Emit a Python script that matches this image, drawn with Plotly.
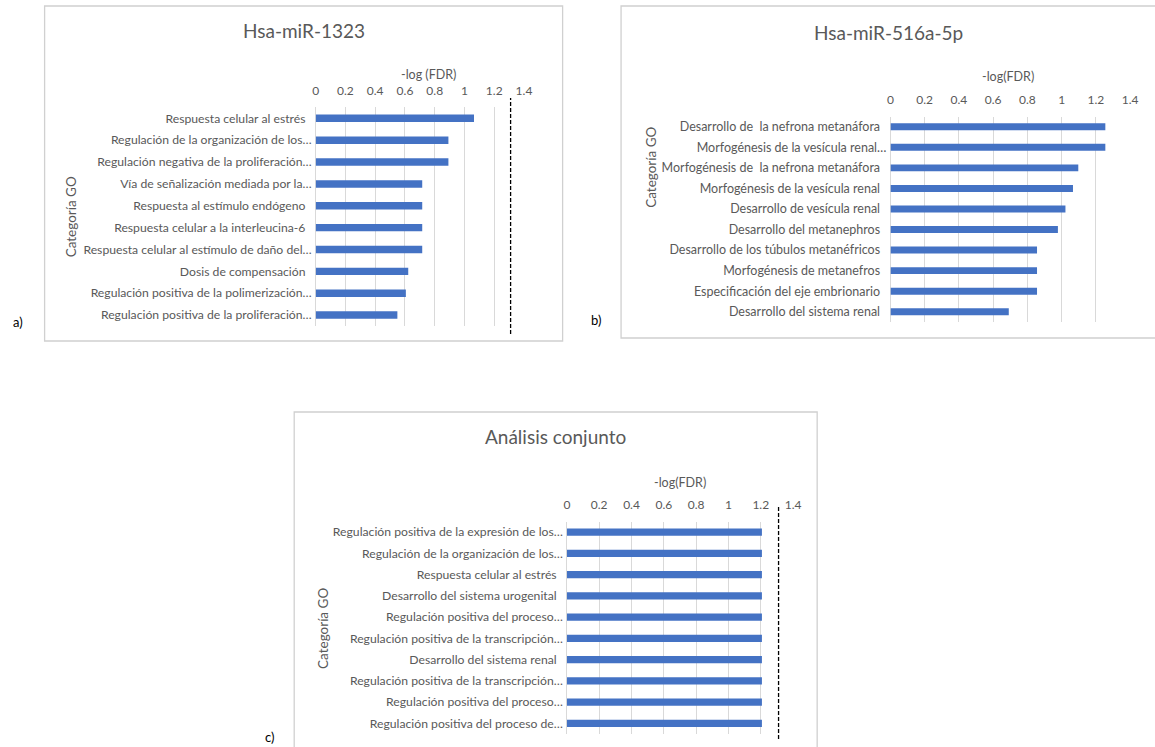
import plotly.graph_objects as go

W, H = 1155, 747

# ---------------- data ----------------
titles = ["Hsa-miR-1323", "Hsa-miR-516a-5p", "Análisis conjunto"]
x_titles = ["-log (FDR)", "-log(FDR)", "-log(FDR)"]
y_title = "Categoría GO"
panel_tags = ["a)", "b)", "c)"]

cats_a = [
    "Respuesta celular al estrés",
    "Regulación de la organización de los…",
    "Regulación negativa de la proliferación…",
    "Vía de señalización mediada por la…",
    "Respuesta al estímulo endógeno",
    "Respuesta celular a la interleucina-6",
    "Respuesta celular al estímulo de daño del…",
    "Dosis de compensación",
    "Regulación positiva de la polimerización…",
    "Regulación positiva de la proliferación…",
]
vals_a = [1.064, 0.892, 0.892, 0.716, 0.716, 0.716, 0.716, 0.622, 0.606, 0.549]

cats_b = [
    "Desarrollo de  la nefrona metanáfora",
    "Morfogénesis de la vesícula renal…",
    "Morfogénesis de  la nefrona metanáfora",
    "Morfogénesis de la vesícula renal",
    "Desarrollo de vesícula renal",
    "Desarrollo del metanephros",
    "Desarrollo de los túbulos metanéfricos",
    "Morfogénesis de metanefros",
    "Especificación del eje embrionario",
    "Desarrollo del sistema renal",
]
vals_b = [1.255, 1.255, 1.097, 1.066, 1.022, 0.978, 0.856, 0.856, 0.856, 0.691]

cats_c = [
    "Regulación positiva de la expresión de los…",
    "Regulación de la organización de los…",
    "Respuesta celular al estrés",
    "Desarrollo del sistema urogenital",
    "Regulación positiva del proceso…",
    "Regulación positiva de la transcripción…",
    "Desarrollo del sistema renal",
    "Regulación positiva de la transcripción…",
    "Regulación positiva del proceso…",
    "Regulación positiva del proceso de…",
]
vals_c = [1.207, 1.207, 1.207, 1.207, 1.207, 1.207, 1.207, 1.207, 1.207, 1.207]

x_ticks = [0, 0.2, 0.4, 0.6, 0.8, 1, 1.2, 1.4]
x_tick_text = ["0", "0.2", "0.4", "0.6", "0.8", "1", "1.2", "1.4"]
THRESHOLD = 1.31  # -log(0.05) significance line

# ---------------- layout helpers ----------------
def fx(px):
    return px / W

def fy(py):
    return 1 - py / H

BAR = "#4472C4"
TXT = "#595959"
GRID = "#d9d9d9"
FONT = "Lato"

# plot areas (pixels): x0, x1, y0, y1
areas = [
    (315.7, 526.0, 107.4, 326.0),
    (896.0, 1138.0, 116.5, 322.0),
    (569.3, 797.7, 521.5, 734.0),
]
title_pos = [(304, 30), (894, 33), (558, 437)]
xtitle_pos = [(430, 74), (1015, 77), (684, 482)]
ytitle_pos = [(69, 217), (654, 167), (323, 628)]
tag_pos = [(15, 322), (599, 320), (269, 737)]
borders = [(42, 6, 565, 341), (624, 6, 1170, 338), (294, 412, 822, 760)]
dash_span = [(98, 334), None, (505, 739)]
label_size = [12.2, 12.5, 12.2]

fig = go.Figure()

panels = [(cats_a, vals_a), (cats_b, vals_b), (cats_c, vals_c)]

def pad(lbl):
    return lbl if lbl.endswith("…") else lbl + "\u00a0\u00a0"

annotations = []
shapes = []
for i, (cats, vals) in enumerate(panels):
    k = "" if i == 0 else str(i + 1)
    idx = list(range(len(cats)))
    fig.add_trace(go.Bar(
        x=vals, y=idx, orientation="h", width=0.34,
        marker=dict(color=BAR, line=dict(width=0)),
        xaxis="x" + k, yaxis="y" + k, showlegend=False, hoverinfo="x",
    ))
    x0, x1, y0, y1 = areas[i]
    fig.layout["xaxis" + k] = dict(
        domain=[fx(x0), fx(x1)], anchor="y" + k, side="top",
        range=[0, 1.4], tickvals=x_ticks, ticktext=x_tick_text,
        showgrid=True, gridcolor=GRID, gridwidth=1,
        zeroline=True, zerolinecolor=GRID, zerolinewidth=1,
        showline=False, ticks="", ticklabelstandoff=9,
        tickfont=dict(family=FONT, size=12, color=TXT),
        fixedrange=True,
    )
    fig.layout["yaxis" + k] = dict(
        domain=[fy(y1), fy(y0)], anchor="x" + k,
        range=[len(cats) - 0.5, -0.5],
        tickvals=idx, ticktext=[pad(c) for c in cats],
        showgrid=False, zeroline=False, showline=False, ticks="",
        ticklabelstandoff=3,
        tickfont=dict(family=FONT, size=label_size[i], color=TXT),
        fixedrange=True,
    )
    tx, ty = title_pos[i]
    annotations.append(dict(x=fx(tx), y=fy(ty), xref="paper", yref="paper",
                            text=titles[i], showarrow=False, xanchor="center", yanchor="middle",
                            font=dict(family=FONT, size=19, color=TXT)))
    ax_, ay_ = xtitle_pos[i]
    annotations.append(dict(x=fx(ax_), y=fy(ay_), xref="paper", yref="paper",
                            text=x_titles[i], showarrow=False, xanchor="center", yanchor="middle",
                            font=dict(family=FONT, size=12.5, color=TXT)))
    yx, yy = ytitle_pos[i]
    annotations.append(dict(x=fx(yx), y=fy(yy), xref="paper", yref="paper",
                            text=y_title, showarrow=False, textangle=-90,
                            xanchor="center", yanchor="middle",
                            font=dict(family=FONT, size=13.5, color=TXT)))
    px_, py_ = tag_pos[i]
    annotations.append(dict(x=fx(px_), y=fy(py_), xref="paper", yref="paper",
                            text=panel_tags[i], showarrow=False, xanchor="center", yanchor="middle",
                            font=dict(family=FONT, size=13, color="#000000")))
    bx0, by0, bx1, by1 = borders[i]
    shapes.append(dict(type="rect", xref="paper", yref="paper",
                       x0=fx(bx0), x1=fx(bx1), y0=fy(by1), y1=fy(by0),
                       line=dict(color="#d0d0d0", width=1.3), fillcolor="rgba(0,0,0,0)", layer="below"))
    if dash_span[i] is not None:
        d0, d1 = dash_span[i]
        shapes.append(dict(type="line", xref="x" + k, yref="paper",
                           x0=THRESHOLD, x1=THRESHOLD, y0=fy(d1), y1=fy(d0),
                           line=dict(color="#000000", width=1.3, dash="4px,2px")))

fig.update_layout(
    width=W, height=H, autosize=False,
    margin=dict(l=0, r=0, t=0, b=0),
    paper_bgcolor="white", plot_bgcolor="white",
    annotations=annotations, shapes=shapes,
    bargap=0.66,
    font=dict(family=FONT, color=TXT),
)

fig.write_html("out.html", config={"displayModeBar": False})
